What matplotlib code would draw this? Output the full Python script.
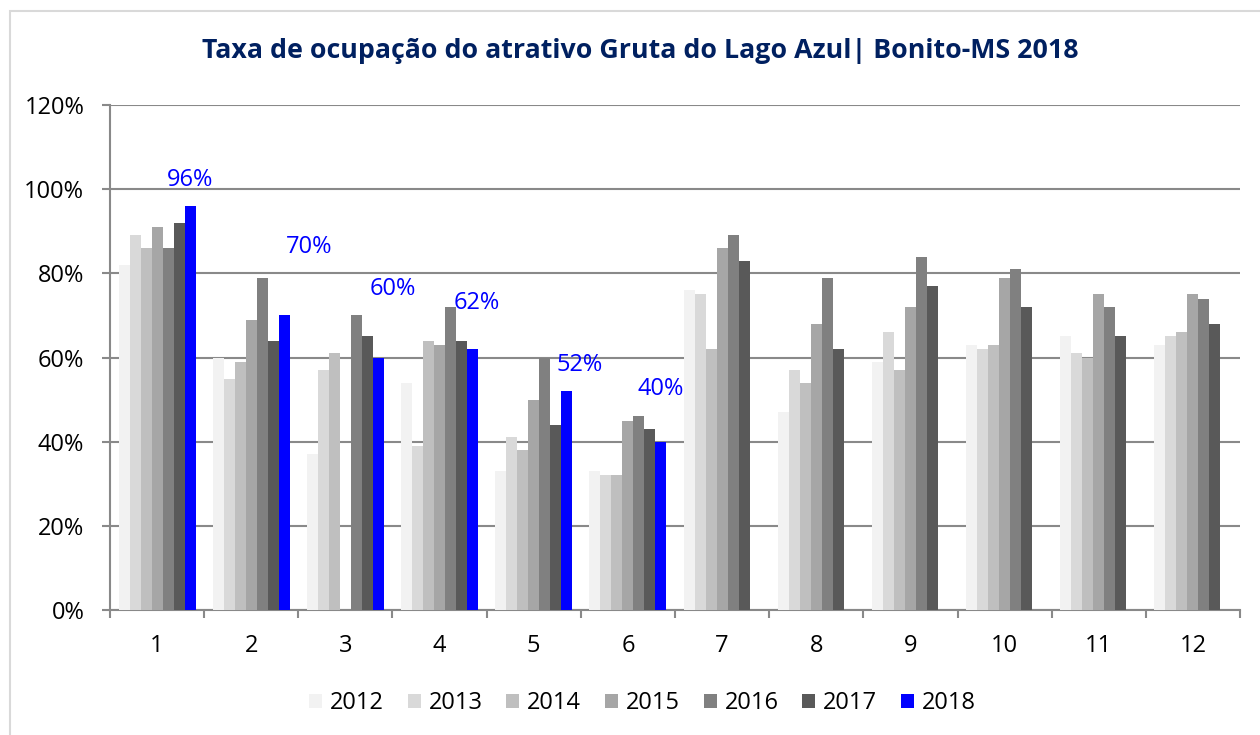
import matplotlib
matplotlib.use("Agg")
import matplotlib.pyplot as plt
from matplotlib.patches import Rectangle
from matplotlib.ticker import FuncFormatter
import numpy as np

months = ["1", "2", "3", "4", "5", "6", "7", "8", "9", "10", "11", "12"]
years = ["2012", "2013", "2014", "2015", "2016", "2017", "2018"]

v2012 = [82, 60, 37, 54, 33, 33, 76, 47, 59, 63, 65, 63]
v2013 = [89, 55, 57, 39, 41, 32, 75, 57, 66, 62, 61, 65]
v2014 = [86, 59, 61, 64, 38, 32, 62, 54, 57, 63, 60, 66]
v2015 = [91, 69, None, 63, 50, 45, 86, 68, 72, 79, 75, 75]
v2016 = [86, 79, 70, 72, 60, 46, 89, 79, 84, 81, 72, 74]
v2017 = [92, 64, 65, 64, 44, 43, 83, 62, 77, 72, 65, 68]
v2018 = [96, 70, 60, 62, 52, 40, None, None, None, None, None, None]

series = [v2012, v2013, v2014, v2015, v2016, v2017, v2018]
colors = ["#F2F2F2", "#D9D9D9", "#BFBFBF", "#A6A6A6", "#808080", "#595959", "#0000FF"]

# label offsets for 2018 data labels (points)
label_offsets = [(0, 19), (18, 49), (10, 49), (3, 33.5), (9, 18.5), (0, 38)]

plt.rcParams['font.family'] = ['Open Sans', 'DejaVu Sans']

fig = plt.figure(figsize=(12.6, 7.35), dpi=100)
fig.patches.append(Rectangle((10/1260, -0.1), 1.2, 1 - 11/735 + 0.1,
                             transform=fig.transFigure, fill=False,
                             edgecolor="#D9D9D9", linewidth=1.5))

ax = fig.add_axes([110/1260, 1 - 610/735, 1130/1260, 505/735])

n = len(years)
bw = 0.117
x = np.arange(len(months))
for i, (vals, c, yr) in enumerate(zip(series, colors, years)):
    xs = [xi + (i - (n - 1) / 2) * bw for xi, v in zip(x, vals) if v is not None]
    ys = [v for v in vals if v is not None]
    ax.bar(xs, ys, width=bw, color=c, label=yr, zorder=3, linewidth=0)

for k, v in enumerate(v2018):
    if v is None:
        continue
    xb = x[k] + (6 - (n - 1) / 2) * bw
    dx, dy = label_offsets[k]
    ax.annotate(f"{v}%", (xb, v), xytext=(dx, dy), textcoords="offset points",
                ha="center", va="center", color="#0000FF", fontsize=17)

ax.set_xlim(-0.5, len(months) - 0.5)
ax.set_ylim(0, 120)
ax.set_yticks(range(0, 121, 20))
ax.yaxis.set_major_formatter(FuncFormatter(lambda v, p: f"{int(v)}%"))
ax.set_xticks(x)
ax.set_xticklabels(months)
ax.set_xticks(np.arange(-0.5, len(months), 1), minor=True)
ax.tick_params(axis="x", which="major", length=0, pad=17, labelsize=17)
ax.tick_params(axis="x", which="minor", length=6, color="#898989", width=1.5)
ax.tick_params(axis="y", length=6, color="#898989", width=1.5, labelsize=17, pad=12.5)
ax.grid(axis="y", color="#898989", linewidth=1.5, zorder=0)
for s in ["top", "right"]:
    ax.spines[s].set_visible(False)
for s in ["left", "bottom"]:
    ax.spines[s].set_color("#898989")
    ax.spines[s].set_linewidth(1.5)
ax.set_axisbelow(True)

fig.text(0.508, 1 - 51/735, "Taxa de ocupação do atrativo Gruta do Lago Azul| Bonito-MS 2018",
         ha="center", va="center", fontsize=19.3, fontweight="bold", color="#002060")

leg = fig.legend(loc="center", bbox_to_anchor=(0.51, 1 - 703/735), ncol=7, frameon=False,
                 fontsize=17, handlelength=0.55, handleheight=0.55, columnspacing=1.0,
                 handletextpad=0.34)

fig.savefig("out.png", dpi=100)
